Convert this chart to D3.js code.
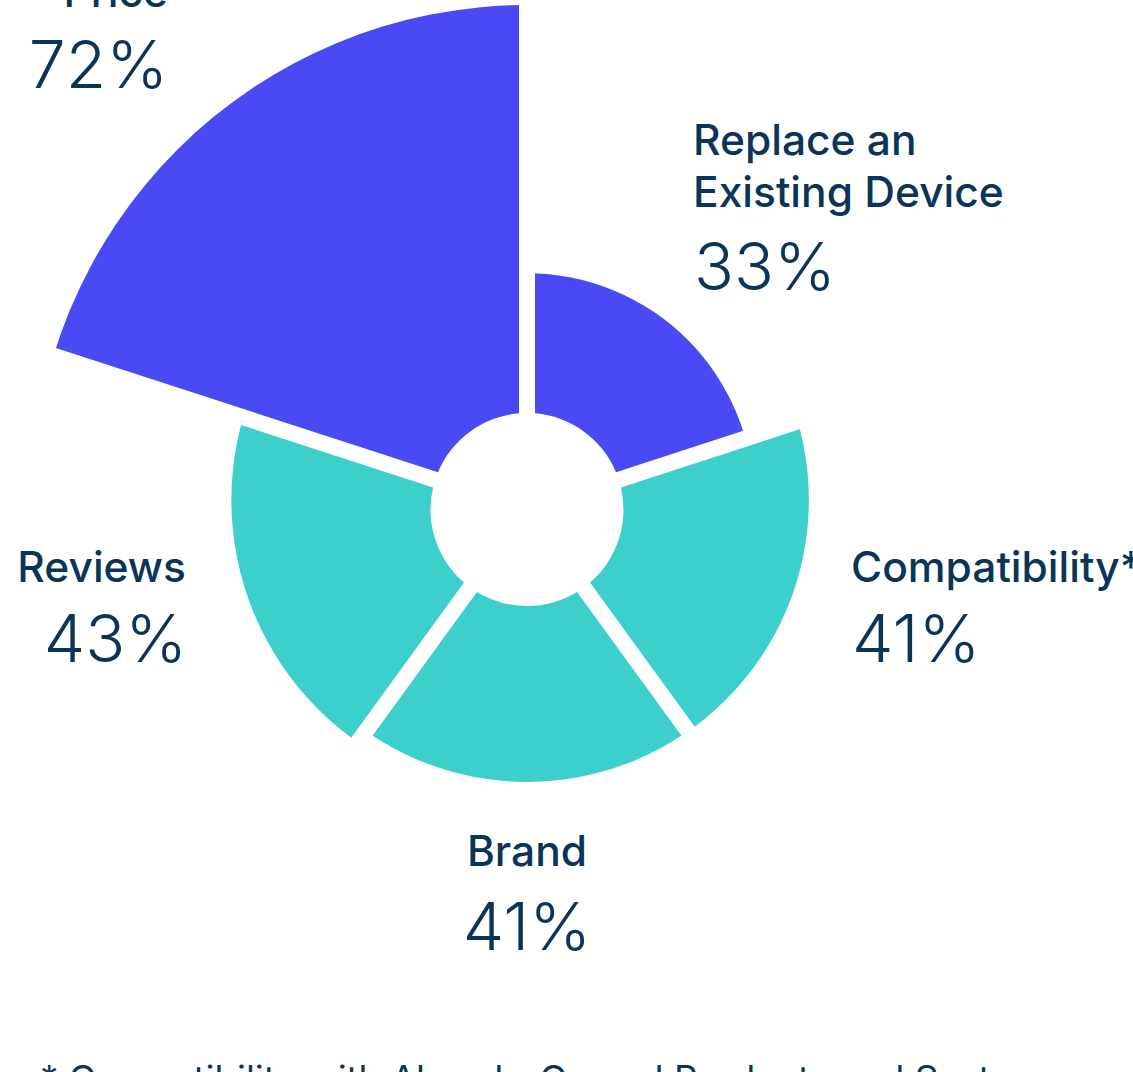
<!DOCTYPE html>
<html>
<head>
<meta charset="utf-8">
<script src="https://cdn.jsdelivr.net/npm/d3@7"></script>
<style>
  html, body { margin: 0; padding: 0; background: #ffffff; }
  svg { display: block; }
  text { font-family: Inter, "Noto Sans", sans-serif; fill: #0B3558; }
</style>
</head>
<body>
<script>
// ---- data ----
const categories = ["Price", "Replace an\nExisting Device", "Compatibility*", "Brand", "Reviews"];
const values = [72, 33, 41, 41, 43];
const groups = ["purple", "purple", "teal", "teal", "teal"];
const footnote = "* Compatibility with Already-Owned Products and Systems";

// ---- layout ----
const W = 1133, H = 1072;
const cx = 527, cy = 500;          // centre of the outer arcs
const hx = 527, hy = 509.5;        // centre of the hole / separators
const holeR = 96.5, gap = 16;
const colors = { purple: "#4A4AF4", teal: "#3DCFCB" };

const svg = d3.select("body").append("svg").attr("width", W).attr("height", H);
const defs = svg.append("defs");

const n = values.length;
const angle = d3.scaleLinear().domain([0, n]).range([-2 * Math.PI / n, 2 * Math.PI - 2 * Math.PI / n]);
const r = d3.scaleLinear().domain([0, 72]).range([0, 495]);

const data = values.map((v, i) => ({ v, i, cat: categories[i], g: groups[i] }));

// clip each wedge by its value circle (centred on the arc centre)
defs.selectAll("clipPath").data(data).join("clipPath")
  .attr("id", d => "clip" + d.i)
  .append("circle")
  .attr("cx", cx).attr("cy", cy)
  .attr("r", d => r(d.v));

const padR = 100;
const wedge = d3.arc()
  .innerRadius(holeR)
  .outerRadius(720)
  .padRadius(padR)
  .padAngle(2 * Math.asin((gap / 2) / padR))
  .startAngle(d => angle(d.i))
  .endAngle(d => angle(d.i + 1));

svg.append("g").selectAll("g").data(data).join("g")
  .attr("clip-path", d => `url(#clip${d.i})`)
  .append("path")
  .attr("transform", `translate(${hx},${hy})`)
  .attr("d", wedge)
  .attr("fill", d => colors[d.g]);

// ---- labels ----
const labelPos = [
  { x: 168, y: 7, anchor: "end", pctX: 168, pctY: 88 },
  { x: 693, y: 155, anchor: "start", pctX: 694, pctY: 290 },
  { x: 851, y: 582, anchor: "start", pctX: 852, pctY: 662 },
  { x: 527, y: 866, anchor: "middle", pctX: 527, pctY: 950 },
  { x: 186, y: 582, anchor: "end", pctX: 187, pctY: 662 }
];

data.forEach((d, i) => {
  const p = labelPos[i];
  const lines = d.cat.split("\n");
  const t = svg.append("text")
    .attr("text-anchor", p.anchor)
    .attr("font-size", 42.5).attr("font-weight", 500);
  lines.forEach((ln, k) => {
    t.append("tspan").attr("x", p.x).attr("y", p.y + k * 52).text(ln);
  });
  svg.append("text")
    .attr("x", p.pctX).attr("y", p.pctY)
    .attr("text-anchor", p.anchor)
    .attr("font-size", 66).attr("font-weight", 300)
    .text(d.v + "%");
});

svg.append("text")
  .attr("x", 40).attr("y", 1092)
  .attr("font-size", 36.8).attr("font-weight", 400)
  .text(footnote);
</script>
</body>
</html>
